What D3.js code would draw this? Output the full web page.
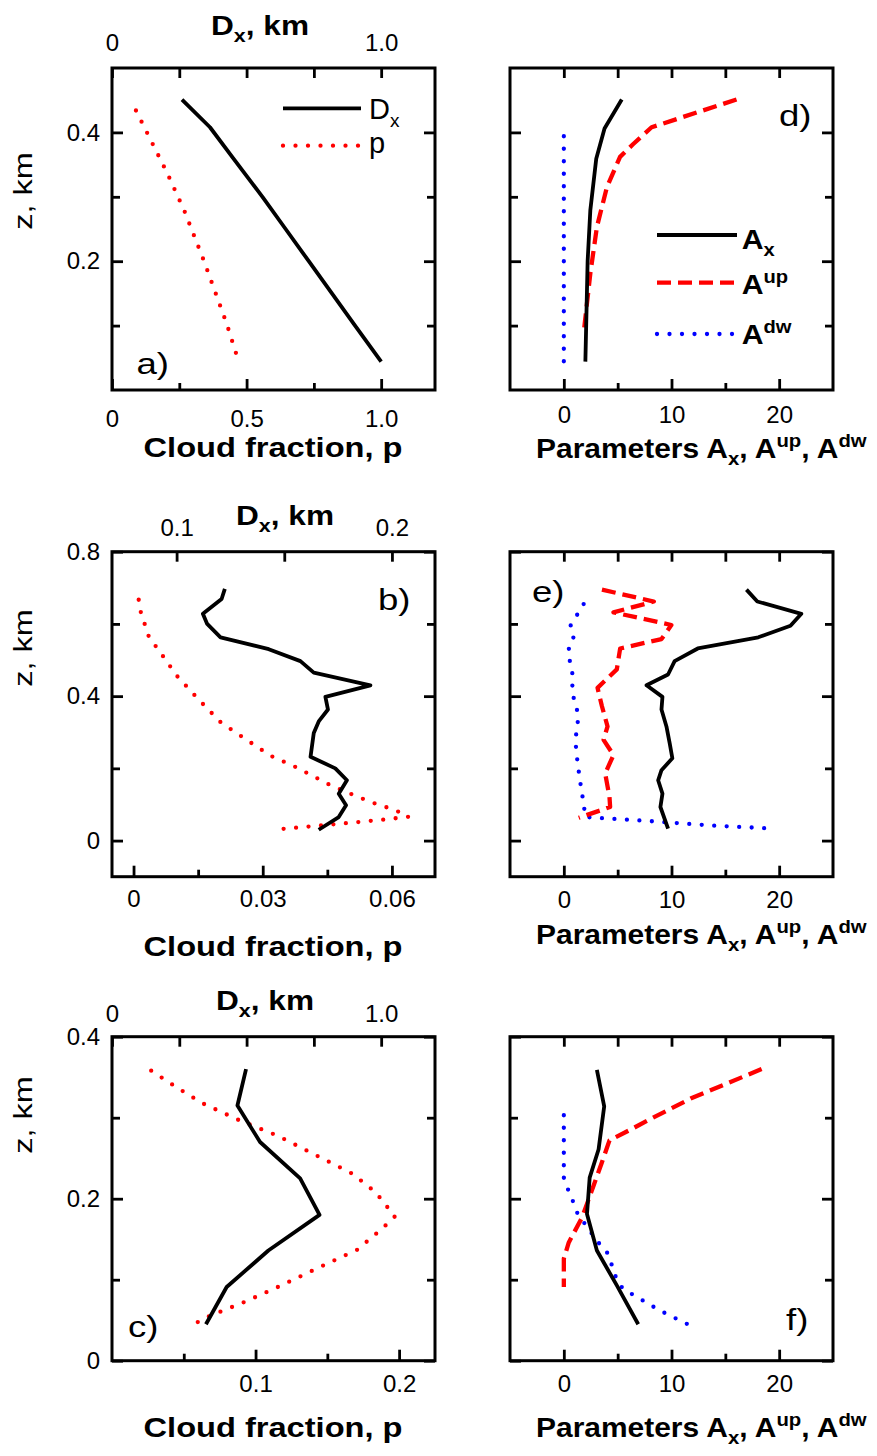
<!DOCTYPE html>
<html><head><meta charset="utf-8">
<script src="https://cdn.jsdelivr.net/npm/d3@7"></script>
<style>
body{margin:0;background:#fff}
text{font-family:"Liberation Sans",Arial,Helvetica,sans-serif}
</style>
</head><body>
<svg id="chart" width="877" height="1456"></svg>
<script>
// ---------------- DATA ----------------
// Panel a
const aZ_D = [0.451,0.408,0.36,0.30,0.25,0.20,0.15,0.10,0.044];
const aD   = [0.26,0.364,0.45,0.559,0.645,0.731,0.817,0.903,1.0];
const aZ_p = [0.434,0.336,0.278,0.2,0.103,0.045];
const aP   = [0.089,0.206,0.269,0.342,0.426,0.47];
// Panel d
const dZ_Ax  = [0.451,0.406,0.359,0.279,0.2,0.044];
const dAx    = [5.38,3.78,3.01,2.46,2.21,2.0];
const dZ_Aup = [0.451,0.408,0.382,0.362,0.315,0.253,0.181,0.088];
const dAup   = [16.04,8.15,6.45,5.22,4.0,3.07,2.46,1.84];
const dZ_Adw = [0.394,0.3,0.2,0.1,0.044];
const dAdw   = [0,0,0,0,0];
// Panel b
const bZ_D = [0.697,0.669,0.628,0.6,0.563,0.53,0.497,0.465,0.43,0.398,0.363,0.33,0.298,0.232,0.2,0.167,0.13,0.098,0.065,0.03];
const bD   = [0.1224,0.1209,0.1122,0.1142,0.1204,0.1428,0.1575,0.1637,0.19,0.1691,0.1703,0.166,0.1637,0.1622,0.1737,0.1791,0.1753,0.1787,0.1753,0.166];
const bZ_p = [0.667,0.632,0.563,0.525,0.457,0.392,0.328,0.281,0.235,0.204,0.151,0.107,0.084,0.066,0.058,0.048,0.0326];
const bP   = [0.0012,0.0017,0.0036,0.006,0.01,0.015,0.0202,0.026,0.0318,0.0376,0.0461,0.055,0.0608,0.0639,0.0581,0.0492,0.0348];
// Panel e
const eZ_Ax  = [0.695,0.662,0.628,0.595,0.563,0.532,0.497,0.46,0.43,0.398,0.363,0.316,0.27,0.228,0.195,0.167,0.13,0.093,0.033];
const eAx    = [16.96,17.97,22.06,21.05,18.06,12.44,10.29,9.68,7.68,9.16,9.07,9.53,9.83,10.08,9.07,8.76,9.16,8.97,9.68];
const eZ_Aup = [0.695,0.662,0.632,0.597,0.558,0.532,0.474,0.423,0.372,0.316,0.279,0.237,0.186,0.121,0.093,0.063];
const eAup   = [3.54,8.36,4.61,9.99,9.07,5.23,4.92,3.13,3.54,4.06,3.69,4.61,3.84,4.24,4.3,1.38];
const eZ_Adw = [0.655,0.595,0.558,0.525,0.451,0.423,0.381,0.349,0.279,0.242,0.172,0.102,0.065,0.063,0.054,0.042,0.033];
const eAdw   = [1.84,0.62,0.92,0.37,0.87,0.77,0.99,1.38,1.08,1.17,1.47,1.84,2.0,3.07,7.99,13.52,19.6];
// Panel c
const cZ_D = [0.36,0.315,0.27,0.225,0.18,0.136,0.091,0.045];
const cD   = [0.498,0.466,0.55,0.699,0.771,0.581,0.426,0.349];
const cZ_p = [0.358,0.337,0.318,0.297,0.278,0.255,0.231,0.208,0.178,0.163,0.137,0.115,0.093,0.073,0.054,0.045];
const cP   = [0.0273,0.0454,0.0628,0.0884,0.115,0.1406,0.1673,0.1836,0.197,0.1882,0.1708,0.1441,0.1181,0.093,0.0663,0.057];
// Panel f
const fZ_Ax  = [0.359,0.314,0.261,0.226,0.181,0.136,0.093,0.045];
const fAx    = [3.07,3.75,3.23,2.4,2.15,3.07,4.92,6.91];
const fZ_Aup = [0.36,0.324,0.298,0.285,0.272,0.245,0.216,0.177,0.146,0.126,0.091];
const fAup   = [18.37,11.83,7.99,6.15,4.24,3.54,2.76,1.70,0.46,0,0];
const fZ_Adw = [0.303,0.241,0.226,0.211,0.196,0.181,0.165,0.148,0.134,0.118,0.102,0.089,0.080,0.062,0.045];
const fAdw   = [0,0,0,0.4,0.87,1.29,2.18,3.07,4.0,4.46,4.86,5.47,6.61,8.91,11.5];

// Tick values / labels
const aBotTicks = [0,0.5,1.0],   aBotLabels = ["0","0.5","1.0"],  aBotMinor = [0.25,0.75];
const aTopTicks = [0,1.0],       aTopLabels = ["0","1.0"],        aTopMinor = [0.25,0.5,0.75];
const aYTicks = [0.2,0.4],       aYLabels = ["0.2","0.4"],        aYMinor = [0.1,0.3];
const bBotTicks = [0,0.03,0.06], bBotLabels = ["0","0.03","0.06"], bBotMinor = [0.015,0.045];
const bTopTicks = [0.1,0.2],     bTopLabels = ["0.1","0.2"],      bTopMinor = [0.15];
const bYTicks = [0,0.4,0.8],     bYLabels = ["0","0.4","0.8"],    bYMinor = [0.2,0.6];
const cBotTicks = [0.1,0.2],     cBotLabels = ["0.1","0.2"],      cBotMinor = [0.05,0.15];
const cTopTicks = [0,1.0],       cTopLabels = ["0","1.0"],        cTopMinor = [0.25,0.5,0.75];
const cYTicks = [0,0.2,0.4],     cYLabels = ["0","0.2","0.4"],    cYMinor = [0.1,0.3];
const AParTicks = [0,10,20],     AParLabels = ["0","10","20"],    AParMinor = [5,15];

// ---------------- DRAWING ----------------
const svg = d3.select("#chart");
const FONT = '"Liberation Sans",Arial,Helvetica,sans-serif';

const styles = {
  solid:  {stroke:"#000", dash:null, width:3.8, cap:"butt"},
  dotRed: {stroke:"#ff0000", dash:"0 12.5", width:4.3, cap:"round"},
  dashRed:{stroke:"#ff0000", dash:"14 7", width:4.3, cap:"butt"},
  dotBlue:{stroke:"#0000ff", dash:"0 12.5", width:4.3, cap:"round"}
};

function styleAxis(g, fs) {
  g.select(".domain").remove();
  g.selectAll(".tick line").attr("stroke","#000").attr("stroke-width",2.8);
  g.selectAll(".tick text").attr("fill","#000").style("font-size",fs+"px").style("font-family",FONT);
}

function axis(gen, scale, vals, labels, size, pad, transform) {
  const a = gen(scale).tickValues(vals).tickSize(-size).tickPadding(pad)
    .tickFormat((d,i)=> labels ? labels[i] : "");
  const g = svg.append("g").attr("transform", transform).call(a);
  styleAxis(g, 24);
  return g;
}

// text with horizontal stretch (reference glyphs are wider than Liberation Sans)
function rich(x, y, parts, weight, anchor, sx, rot) {
  const g = svg.append("g").attr("transform", `translate(${x},${y})` + (rot ? ` rotate(${rot})` : "") + ` scale(${sx||1},1)`);
  const t = g.append("text").attr("x",0).attr("y",0).attr("fill","#000")
    .style("font-weight",weight).attr("text-anchor",anchor||"start");
  parts.forEach(p => {
    const ts = t.append("tspan").text(p.t).style("font-size",p.s+"px");
    if (p.dy) ts.attr("dy",p.dy);
  });
  return t;
}

function panel(o) {
  const sx = d3.scaleLinear().domain(o.xDom).range([o.x0,o.x1]);
  const sxT = d3.scaleLinear().domain(o.xTopDom || o.xDom).range([o.x0,o.x1]);
  const sy = d3.scaleLinear().domain(o.yDom).range([o.y1,o.y0]);
  axis(d3.axisBottom, sx, o.bot.major, o.bot.labels, 11, o.bot.pad, `translate(0,${o.y1})`);
  axis(d3.axisBottom, sx, o.bot.minor, null, 7, 0, `translate(0,${o.y1})`);
  axis(d3.axisTop, sxT, o.top.major, o.top.labels, 10, o.top.pad || 0, `translate(0,${o.y0})`);
  axis(d3.axisTop, sxT, o.top.minor, null, 10, 0, `translate(0,${o.y0})`);
  axis(d3.axisLeft, sy, o.y.major, o.y.labels, 11, 12, `translate(${o.x0},0)`);
  axis(d3.axisLeft, sy, o.y.minor, null, 8, 0, `translate(${o.x0},0)`);
  axis(d3.axisRight, sy, o.y.major, null, 11, 0, `translate(${o.x1},0)`);
  axis(d3.axisRight, sy, o.y.minor, null, 8, 0, `translate(${o.x1},0)`);
  svg.append("rect").attr("x",o.x0).attr("y",o.y0).attr("width",o.x1-o.x0).attr("height",o.y1-o.y0)
    .attr("fill","none").attr("stroke","#000").attr("stroke-width",3);
  o.series.forEach(s => {
    const scale = s.top ? sxT : sx;
    const pts = s.xs.map((v,i)=>[v, s.zs[i]]);
    const st = styles[s.style];
    const line = d3.line().x(d=>scale(d[0])).y(d=>sy(d[1]));
    const p = svg.append("path").attr("d", line(pts)).attr("fill","none")
      .attr("stroke", st.stroke).attr("stroke-width", st.width)
      .attr("stroke-linecap", st.cap).attr("stroke-linejoin","round");
    if (st.dash) p.attr("stroke-dasharray", st.dash);
  });
  rich(o.letter[1], o.letter[2], [{t:o.letter[0], s:30}], "normal", "start", 1.22);
}

const LX0 = 112, LX1 = 435, RX0 = 510, RX1 = 833;
const rows = [
  {y0:68, y1:390}, {y0:551.7, y1:876.7}, {y0:1036.7, y1:1360.7}
];

panel({x0:LX0,x1:LX1,y0:rows[0].y0,y1:rows[0].y1, xDom:[0,1.2], xTopDom:[0,1.2], yDom:[0,0.5],
  bot:{major:aBotTicks,labels:aBotLabels,minor:aBotMinor,pad:19.7},
  top:{major:aTopTicks,labels:aTopLabels,minor:aTopMinor,pad:17.3},
  y:{major:aYTicks,labels:aYLabels,minor:aYMinor},
  series:[{xs:aP,zs:aZ_p,style:"dotRed"},{xs:aD,zs:aZ_D,style:"solid",top:true}],
  letter:["a)",136.5,374]});
panel({x0:RX0,x1:RX1,y0:rows[0].y0,y1:rows[0].y1, xDom:[-5,25], yDom:[0,0.5],
  bot:{major:AParTicks,labels:AParLabels,minor:AParMinor,pad:16.3},
  top:{major:AParTicks,labels:null,minor:AParMinor,pad:0},
  y:{major:aYTicks,labels:null,minor:aYMinor},
  series:[{xs:dAdw,zs:dZ_Adw,style:"dotBlue"},{xs:dAup,zs:dZ_Aup,style:"dashRed"},{xs:dAx,zs:dZ_Ax,style:"solid"}],
  letter:["d)",779,126]});
panel({x0:LX0,x1:LX1,y0:rows[1].y0,y1:rows[1].y1, xDom:[-0.005,0.07], xTopDom:[0.07,0.22], yDom:[-0.1,0.8],
  bot:{major:bBotTicks,labels:bBotLabels,minor:bBotMinor,pad:13.3},
  top:{major:bTopTicks,labels:bTopLabels,minor:bTopMinor,pad:15.7},
  y:{major:bYTicks,labels:bYLabels,minor:bYMinor},
  series:[{xs:bP,zs:bZ_p,style:"dotRed"},{xs:bD,zs:bZ_D,style:"solid",top:true}],
  letter:["b)",378,610]});
panel({x0:RX0,x1:RX1,y0:rows[1].y0,y1:rows[1].y1, xDom:[-5,25], yDom:[-0.1,0.8],
  bot:{major:AParTicks,labels:AParLabels,minor:AParMinor,pad:14},
  top:{major:AParTicks,labels:null,minor:AParMinor,pad:0},
  y:{major:bYTicks,labels:null,minor:bYMinor},
  series:[{xs:eAdw,zs:eZ_Adw,style:"dotBlue"},{xs:eAup,zs:eZ_Aup,style:"dashRed"},{xs:eAx,zs:eZ_Ax,style:"solid"}],
  letter:["e)",532,601.7]});
panel({x0:LX0,x1:LX1,y0:rows[2].y0,y1:rows[2].y1, xDom:[0,0.225], xTopDom:[0,1.2], yDom:[0,0.4],
  bot:{major:cBotTicks,labels:cBotLabels,minor:cBotMinor,pad:14},
  top:{major:cTopTicks,labels:cTopLabels,minor:cTopMinor,pad:15},
  y:{major:cYTicks,labels:cYLabels,minor:cYMinor},
  series:[{xs:cP,zs:cZ_p,style:"dotRed"},{xs:cD,zs:cZ_D,style:"solid",top:true}],
  letter:["c)",128,1336.7]});
panel({x0:RX0,x1:RX1,y0:rows[2].y0,y1:rows[2].y1, xDom:[-5,25], yDom:[0,0.4],
  bot:{major:AParTicks,labels:AParLabels,minor:AParMinor,pad:14},
  top:{major:AParTicks,labels:null,minor:AParMinor,pad:0},
  y:{major:cYTicks,labels:null,minor:cYMinor},
  series:[{xs:fAdw,zs:fZ_Adw,style:"dotBlue"},{xs:fAup,zs:fZ_Aup,style:"dashRed"},{xs:fAx,zs:fZ_Ax,style:"solid"}],
  letter:["f)",786,1330]});

// Titles D_x, km
const titleParts = [{t:"D",s:28},{t:"x",s:19,dy:7},{t:", km",s:28,dy:-7}];
rich(211, 35, titleParts, "bold", "start", 1.13);
rich(236, 525, titleParts, "bold", "start", 1.13);
rich(216, 1010, titleParts, "bold", "start", 1.13);

// x labels
const cfLabel = [{t:"Cloud fraction, p",s:28}];
rich(273, 456.7, cfLabel, "bold", "middle", 1.165);
rich(273, 956, cfLabel, "bold", "middle", 1.165);
rich(273, 1437, cfLabel, "bold", "middle", 1.165);
const parLabel = [{t:"Parameters A",s:28},{t:"x",s:19,dy:7},{t:", A",s:28,dy:-7},{t:"up",s:19,dy:-11},
  {t:", A",s:28,dy:11},{t:"dw",s:19,dy:-11}];
rich(536, 458.3, parLabel, "bold", "start", 1.07);
rich(536, 944, parLabel, "bold", "start", 1.07);
rich(536, 1437, parLabel, "bold", "start", 1.07);

// y labels
[191, 648, 1115].forEach(cy => {
  rich(31.5, cy, [{t:"z, km", s:25}], "normal", "middle", 1.3, -90);
});

// Legend (panel a)
const legA = [{y:108.3, style:"solid", label:[{t:"D",s:29},{t:"x",s:19,dy:8}], ty:119},
              {y:145.7, style:"dotRed", label:[{t:"p",s:29}], ty:153}];
legA.forEach(l => {
  const st = styles[l.style];
  const p = svg.append("path").attr("d", d3.line()([[283,l.y],[361,l.y]])).attr("fill","none")
    .attr("stroke",st.stroke).attr("stroke-width",st.width).attr("stroke-linecap",st.cap);
  if (st.dash) p.attr("stroke-dasharray",st.dash);
  rich(369, l.ty, l.label, "normal", "start", 1);
});
// Legend (panel d)
const legD = [{y:235, style:"solid", label:[{t:"A",s:27},{t:"x",s:18,dy:7}], ty:248.5},
              {y:282.7, style:"dashRed", label:[{t:"A",s:27},{t:"up",s:18,dy:-11}], ty:294},
              {y:334, style:"dotBlue", label:[{t:"A",s:27},{t:"dw",s:18,dy:-11}], ty:344}];
legD.forEach(l => {
  const st = styles[l.style];
  const p = svg.append("path").attr("d", d3.line()([[657,l.y],[737,l.y]])).attr("fill","none")
    .attr("stroke",st.stroke).attr("stroke-width",st.width).attr("stroke-linecap",st.cap);
  if (st.dash) p.attr("stroke-dasharray",st.dash);
  rich(741.7, l.ty, l.label, "bold", "start", 1.12);
});
</script>
</body></html>
